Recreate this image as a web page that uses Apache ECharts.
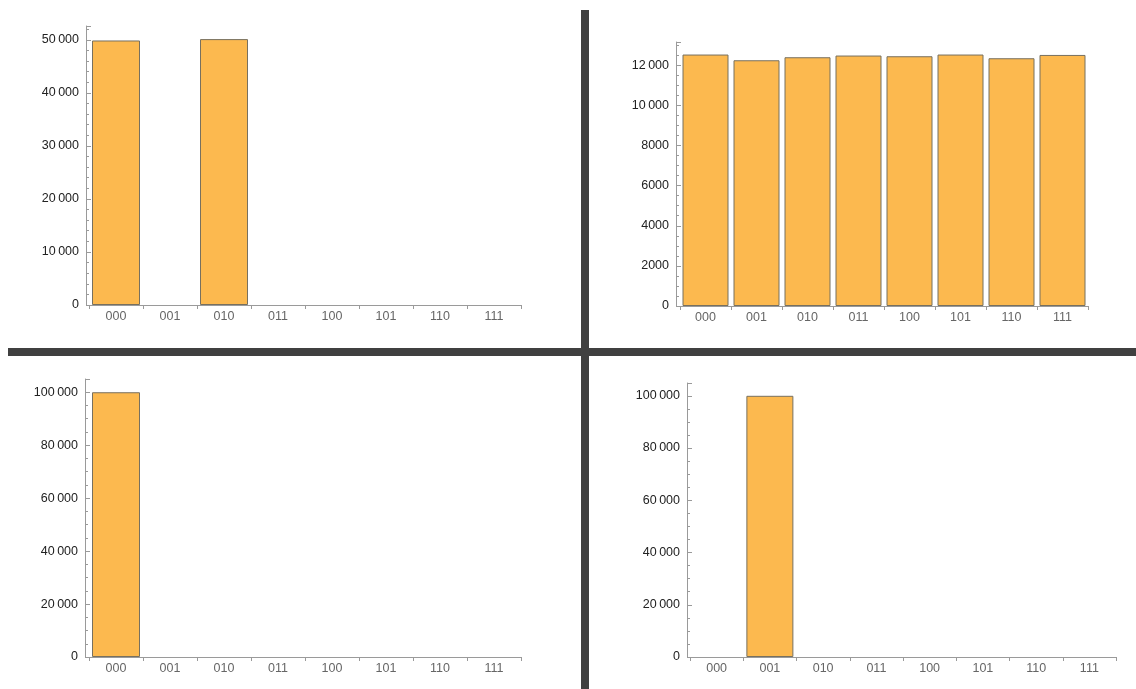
<!DOCTYPE html>
<html>
<head>
<meta charset="utf-8">
<script src="https://cdn.jsdelivr.net/npm/echarts@6/dist/echarts.min.js"></script>
<style>
html,body{margin:0;padding:0;background:#fff;}
#c{width:1136px;height:689px;}
</style>
</head>
<body>
<div id="c"></div>
<script>
const categories = ['000', '001', '010', '011', '100', '101', '110', '111'];
const countsTopLeft = [49870, 0, 50130, 0, 0, 0, 0, 0];
const countsTopRight = [12535, 12250, 12400, 12485, 12450, 12535, 12350, 12515];
const countsBottomLeft = [100000, 0, 0, 0, 0, 0, 0, 0];
const countsBottomRight = [0, 100000, 0, 0, 0, 0, 0, 0];

const panels = [
  {data: countsTopLeft, grid: {left: 89, top: 26, width: 432, height: 279}, max: 52600, interval: 10000, minor: 5, offset: 3, barWidth: 48},
  {data: countsTopRight, grid: {left: 680, top: 42, width: 408, height: 264}, max: 13160, interval: 2000, minor: 4, offset: 4, barWidth: 46},
  {data: countsBottomLeft, grid: {left: 89, top: 379, width: 432, height: 278}, max: 105000, interval: 20000, minor: 4, offset: 4, barWidth: 48},
  {data: countsBottomRight, grid: {left: 690, top: 383, width: 426, height: 274}, max: 104900, interval: 20000, minor: 4, offset: 3, barWidth: 47}
];

function fmt(interval) {
  return function (v) {
    if (v % interval !== 0) return '';
    const s = String(v);
    if (s.length > 4) return s.slice(0, s.length - 3) + '\u2009' + s.slice(s.length - 3);
    return s;
  };
}

const axisColor = '#9a9a9a';
const option = {
  animation: false,
  backgroundColor: '#ffffff',
  textStyle: {fontFamily: 'Liberation Sans'},
  grid: panels.map(p => Object.assign({containLabel: false}, p.grid)),
  xAxis: panels.map((p, i) => ({
    type: 'category',
    gridIndex: i,
    data: categories,
    boundaryGap: true,
    axisLine: {show: true, lineStyle: {color: axisColor, width: 1}},
    axisTick: {show: true, inside: false, length: 4, lineStyle: {color: axisColor}},
    axisLabel: {color: '#666666', fontSize: 12.5, margin: 5, fontFamily: 'Liberation Sans'},
    splitLine: {show: false}
  })),
  yAxis: panels.map((p, i) => ({
    type: 'value',
    gridIndex: i,
    min: 0,
    max: p.max,
    interval: p.interval,
    offset: p.offset,
    axisLine: {show: true, lineStyle: {color: axisColor, width: 1}},
    axisTick: {show: true, inside: true, length: 5, lineStyle: {color: axisColor}},
    minorTick: {show: true, splitNumber: p.minor, length: 3, lineStyle: {color: axisColor}},
    axisLabel: {color: '#222222', fontSize: 12.5, margin: 7, formatter: fmt(p.interval), fontFamily: 'Liberation Sans'},
    splitLine: {show: false}
  })),
  series: panels.map((p, i) => ({
    type: 'bar',
    xAxisIndex: i,
    yAxisIndex: i,
    data: p.data.map(v => (v === 0 ? null : v)),
    barWidth: p.barWidth,
    itemStyle: {color: '#fcb94f', borderColor: '#77705f', borderWidth: 1}
  })),
  graphic: [
    {type: 'rect', shape: {x: 581, y: 10, width: 8, height: 679}, style: {fill: '#404040'}, z: 100},
    {type: 'rect', shape: {x: 8, y: 348, width: 1128, height: 8}, style: {fill: '#404040'}, z: 100}
  ]
};

const chart = echarts.init(document.getElementById('c'), null, {renderer: 'canvas'});
chart.setOption(option);
</script>
</body>
</html>
